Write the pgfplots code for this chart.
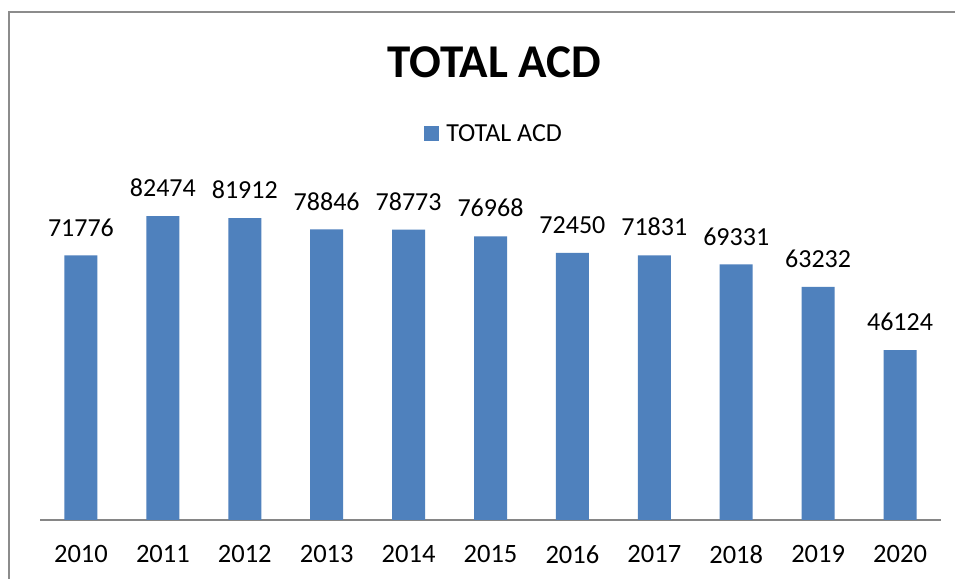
\documentclass[border=0pt]{standalone}
\usepackage{fontspec}
\setmainfont{Carlito}
\usepackage{pgfplots}
\pgfplotsset{compat=1.18}
\definecolor{barblue}{HTML}{4F81BD}
\definecolor{framegray}{HTML}{8C8C8C}
\definecolor{basegray}{HTML}{868686}

\begin{document}
\begin{tikzpicture}[x=1pt,y=1pt]
\useasboundingbox (0,0) rectangle (955,578);
\fill[white] (0,0) rectangle (955,578);
% chart frame, only the left and top edges are inside the picture
\draw[framegray, line width=2pt] (9,-5) -- (9,566) -- (960,566);

\begin{axis}[
    at={(40pt,58pt)}, anchor=south west,
    scale only axis,
    width=901pt, height=331.7pt,
    ybar, bar width=33pt,
    xmin=-0.5, xmax=10.5,
    ymin=0, ymax=90000,
    xtick=data,
    xticklabels={2010,2011,2012,2013,2014,2015,2016,2017,2018,2019,2020},
    axis x line*=bottom, axis y line=none,
    x axis line style={basegray, line width=1.5pt, -},
    major tick length=0pt,
    xticklabel style={font=\fontsize{26.5}{30}\selectfont, anchor=north, inner sep=0pt, yshift=-25pt},
    /pgf/number format/.cd, 1000 sep={}, assume math mode=true, /pgfplots/.cd,
    nodes near coords,
    every node near coord/.append style={font=\fontsize{26}{30}\selectfont, text=black, anchor=south, inner sep=0pt, yshift=19pt},
    title={TOTAL ACD},
    title style={font=\fontsize{47}{52}\selectfont\bfseries, at={(0.504,1.362)}, anchor=center, inner sep=0pt},
    legend style={at={(0.504,1.165)}, anchor=center, draw=none, fill=none,
        font=\fontsize{26}{29}\selectfont, inner sep=0pt,
        /tikz/every odd column/.append style={column sep=5pt}},
    legend image code/.code={\fill[barblue] (0pt,-7.5pt) rectangle (15pt,7.5pt);},
]
\addplot[fill=barblue, draw=none] coordinates {
    (0,71776) (1,82474) (2,81912) (3,78846) (4,78773) (5,76968)
    (6,72450) (7,71831) (8,69331) (9,63232) (10,46124)
};
\addlegendentry{TOTAL ACD}
\end{axis}
\end{tikzpicture}
\end{document}
